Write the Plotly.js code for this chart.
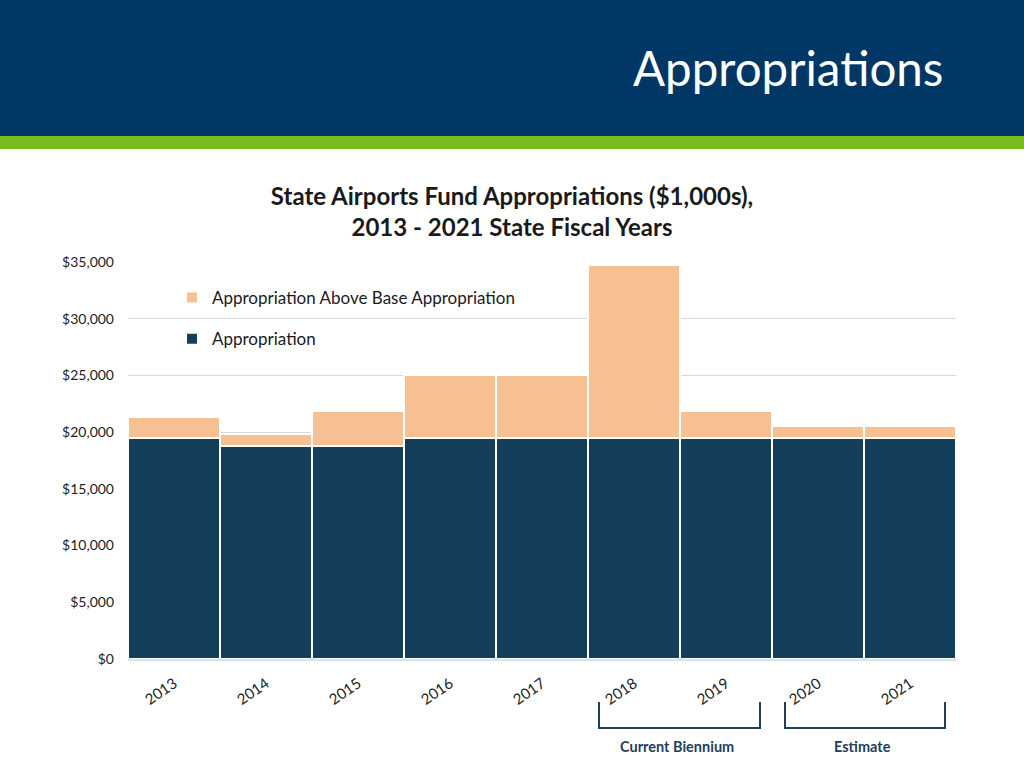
<!DOCTYPE html>
<html>
<head>
<meta charset="utf-8">
<script src="https://cdn.plot.ly/plotly-3.0.1.min.js"></script>
<style>
  html, body { margin: 0; padding: 0; background: #fff; }
  #wrap { position: relative; width: 1024px; height: 768px; overflow: hidden; }
  #chart { position: absolute; left: 0; top: 0; width: 1024px; height: 768px; }
  #band { position: absolute; left: 0; top: 0; width: 1024px; height: 136px; background: #003764; z-index: 5; }
  #green { position: absolute; left: 0; top: 136px; width: 1024px; height: 13px; background: #76bc21; z-index: 5; }
  #head { position: absolute; left: 0; top: 38px; width: 1024px; text-align: left; z-index: 6;
          font-family: Lato, "Open Sans", sans-serif; font-size: 47.5px; color: #fff; padding-left: 633px; box-sizing: border-box; line-height: 60px; }
</style>
</head>
<body>
<div id="wrap">
  <div id="chart"></div>
  <div id="band"></div>
  <div id="green"></div>
  <div id="head">Appropriations</div>
</div>
<script>
const years = ['2013','2014','2015','2016','2017','2018','2019','2020','2021'];
const baseAppropriation = [19500, 18800, 18800, 19500, 19500, 19500, 19500, 19500, 19500];
const aboveBase = [1800, 1050, 3050, 5550, 5550, 15250, 2350, 1000, 1000];
const yTickVals = [0, 5000, 10000, 15000, 20000, 25000, 30000, 35000];
const yTickText = ['$0', '$5,000', '$10,000', '$15,000', '$20,000', '$25,000', '$30,000', '$35,000'];

const FONT = 'Lato, "Open Sans", sans-serif';

const traces = [
  {
    type: 'bar', name: 'Appropriation', x: years, y: baseAppropriation,
    marker: { color: '#123e5a', line: { color: '#ffffff', width: 2 } },
    legendgroup: 'a', legendrank: 2, hoverinfo: 'x+y'
  },
  {
    type: 'bar', name: 'Appropriation Above Base Appropriation', x: years, y: aboveBase,
    marker: { color: '#f6c092', line: { color: '#ffffff', width: 2 } },
    legendgroup: 'b', legendrank: 1, hoverinfo: 'x+y'
  }
];

const P = (px) => (px - 128) / 828;
const Q = (py) => (659 - py) / 397;
const bracketColor = '#1f405c';

const layout = {
  width: 1024, height: 768,
  margin: { l: 128, r: 68, t: 262, b: 109 },
  paper_bgcolor: '#ffffff', plot_bgcolor: '#ffffff',
  barmode: 'stack', bargap: 0,
  font: { family: FONT, size: 13, color: '#222' },
  title: {
    text: '<b>State Airports Fund Appropriations ($1,000s),<br>2013 - 2021 State Fiscal Years</b>',
    font: { family: FONT, size: 24, color: '#1a1a1a' },
    x: 0.5, xanchor: 'center', y: 1 - 205/768, yanchor: 'middle'
  },
  xaxis: {
    type: 'category', tickangle: -35, showgrid: false,
    showline: true, linecolor: '#d3e2ee', linewidth: 2,
    ticks: '', ticklabelstandoff: 8, tickfont: { family: FONT, size: 15, color: '#222' }
  },
  yaxis: {
    range: [0, 35000], tickvals: yTickVals, ticktext: yTickText,
    showgrid: true, gridcolor: '#d9d9d9', gridwidth: 1, zeroline: false,
    ticks: '', ticklen: 0, ticklabelstandoff: 13, tickfont: { family: FONT, size: 14, color: '#222' }
  },
  showlegend: true,
  legend: {
    x: P(172), y: Q(280), xanchor: 'left', yanchor: 'top',
    traceorder: 'grouped', tracegroupgap: 16,
    font: { family: FONT, size: 17, color: '#1a1a1a' },
    bgcolor: 'rgba(0,0,0,0)', itemwidth: 30
  },
  shapes: [
    { type: 'path', xref: 'paper', yref: 'paper',
      path: `M ${P(599)} ${Q(702)} L ${P(599)} ${Q(728)} L ${P(760)} ${Q(728)} L ${P(760)} ${Q(702)}`,
      line: { color: bracketColor, width: 2 } },
    { type: 'path', xref: 'paper', yref: 'paper',
      path: `M ${P(785)} ${Q(702)} L ${P(785)} ${Q(728)} L ${P(945)} ${Q(728)} L ${P(945)} ${Q(702)}`,
      line: { color: bracketColor, width: 2 } }
  ],
  annotations: [
    { xref: 'paper', yref: 'paper', x: P(677), y: Q(746), text: '<b>Current Biennium</b>',
      showarrow: false, xanchor: 'center', yanchor: 'middle',
      font: { family: FONT, size: 14.5, color: bracketColor } },
    { xref: 'paper', yref: 'paper', x: P(862), y: Q(746), text: '<b>Estimate</b>',
      showarrow: false, xanchor: 'center', yanchor: 'middle',
      font: { family: FONT, size: 14.5, color: bracketColor } }
  ]
};

Plotly.newPlot('chart', traces, layout, { displayModeBar: false, staticPlot: true });
</script>
</body>
</html>
